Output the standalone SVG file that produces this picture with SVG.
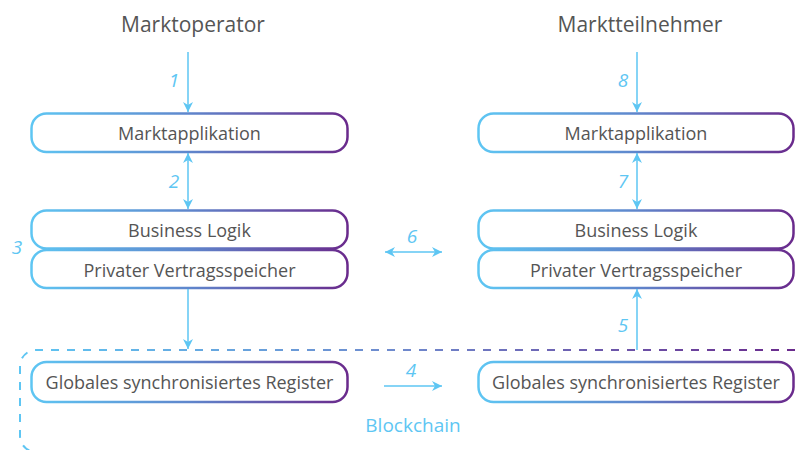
<svg xmlns="http://www.w3.org/2000/svg" width="795" height="450" viewBox="0 0 795 450">
  <defs>
    <linearGradient id="boxGrad" x1="0" y1="0" x2="1" y2="0">
      <stop offset="0" stop-color="#5ec6f3"/>
      <stop offset="0.5" stop-color="#5f86cc"/>
      <stop offset="1" stop-color="#6a2a8c"/>
    </linearGradient>
    <linearGradient id="chainGrad" gradientUnits="userSpaceOnUse" x1="20" y1="0" x2="795" y2="0">
      <stop offset="0" stop-color="#5ec6f3"/>
      <stop offset="0.5" stop-color="#6f88cc"/>
      <stop offset="1" stop-color="#6a2a8c"/>
    </linearGradient>
    <marker id="head" viewBox="0 0 10 10" refX="10" refY="5" markerWidth="10" markerHeight="10" markerUnits="userSpaceOnUse" orient="auto-start-reverse">
      <path d="M0,0 L10,5 L0,10 L3,5 Z" fill="#5ec6f3"/>
    </marker>
    <style>
      .box { fill: #ffffff; stroke: url(#boxGrad); stroke-width: 2.5; }
      .label { font-family: "Open Sans", "Liberation Sans", sans-serif; font-size: 18px; fill: #555555; text-anchor: middle; }
      .title { font-family: "Open Sans", "Liberation Sans", sans-serif; font-size: 21px; fill: #555555; text-anchor: middle; }
      .num { font-family: "Open Sans", "Liberation Sans", sans-serif; font-size: 19px; font-style: italic; fill: #5ec6f3; text-anchor: middle; }
      .conn { fill: none; stroke: #5ec6f3; stroke-width: 1.5; }
      .chain { fill: none; stroke: url(#chainGrad); stroke-width: 2; stroke-dasharray: 8 8; }
    </style>
  </defs>

  <rect width="795" height="450" fill="#ffffff"/>

  <!-- Blockchain boundary -->
  <g id="blockchain">
    <path class="chain" d="M795,350 H36 A16,16 0 0 0 20,366 V436 A16,16 0 0 0 36,452"/>
    <text x="413" y="432" font-family="Open Sans, Liberation Sans, sans-serif" font-size="19" fill="#5ec6f3" text-anchor="middle">Blockchain</text>
  </g>

  <!-- Titles -->
  <g id="marktoperator">
    <text class="title" x="193" y="32">Marktoperator</text>
  </g>
  <g id="marktteilnehmer">
    <text class="title" x="640" y="32">Marktteilnehmer</text>
  </g>

  <!-- Left stack -->
  <g id="op-app">
    <rect class="box" x="31.5" y="113.5" width="316" height="38.5" rx="15"/>
    <text class="label" x="189.5" y="140">Marktapplikation</text>
  </g>
  <g id="op-logic">
    <rect class="box" x="31.5" y="210.5" width="316" height="38" rx="15"/>
    <text class="label" x="189.5" y="236.5">Business Logik</text>
  </g>
  <g id="op-store">
    <rect class="box" x="31.5" y="250" width="316" height="38" rx="15"/>
    <text class="label" x="189.5" y="276.5">Privater Vertragsspeicher</text>
  </g>
  <g id="op-ledger">
    <rect class="box" x="31.5" y="362" width="316" height="40" rx="15"/>
    <text class="label" x="189.5" y="388.5">Globales synchronisiertes Register</text>
  </g>

  <!-- Right stack -->
  <g id="tn-app">
    <rect class="box" x="478.5" y="113.5" width="315" height="38.5" rx="15"/>
    <text class="label" x="636" y="140">Marktapplikation</text>
  </g>
  <g id="tn-logic">
    <rect class="box" x="478.5" y="210.5" width="315" height="38" rx="15"/>
    <text class="label" x="636" y="236.5">Business Logik</text>
  </g>
  <g id="tn-store">
    <rect class="box" x="478.5" y="250" width="315" height="38" rx="15"/>
    <text class="label" x="636" y="276.5">Privater Vertragsspeicher</text>
  </g>
  <g id="tn-ledger">
    <rect class="box" x="478.5" y="362" width="315" height="40" rx="15"/>
    <text class="label" x="636" y="388.5">Globales synchronisiertes Register</text>
  </g>

  <!-- Connectors -->
  <g id="connectors">
    <line class="conn" x1="188" y1="52" x2="188" y2="112" marker-end="url(#head)"/>
    <line class="conn" x1="188" y1="153" x2="188" y2="209" marker-start="url(#head)" marker-end="url(#head)"/>
    <line class="conn" x1="188" y1="289" x2="188" y2="349" marker-end="url(#head)"/>
    <line class="conn" x1="384" y1="386" x2="442" y2="386" marker-end="url(#head)"/>
    <line class="conn" x1="637" y1="350" x2="637" y2="289" marker-end="url(#head)"/>
    <line class="conn" x1="385" y1="252" x2="442" y2="252" marker-start="url(#head)" marker-end="url(#head)"/>
    <line class="conn" x1="637" y1="153" x2="637" y2="209" marker-start="url(#head)" marker-end="url(#head)"/>
    <line class="conn" x1="637" y1="52" x2="637" y2="112" marker-end="url(#head)"/>

    <text class="num" x="174" y="87">1</text>
    <text class="num" x="174" y="188">2</text>
    <text class="num" x="17" y="254">3</text>
    <text class="num" x="411" y="377">4</text>
    <text class="num" x="623" y="332">5</text>
    <text class="num" x="412" y="243">6</text>
    <text class="num" x="623" y="188">7</text>
    <text class="num" x="623" y="87">8</text>
  </g>
</svg>
